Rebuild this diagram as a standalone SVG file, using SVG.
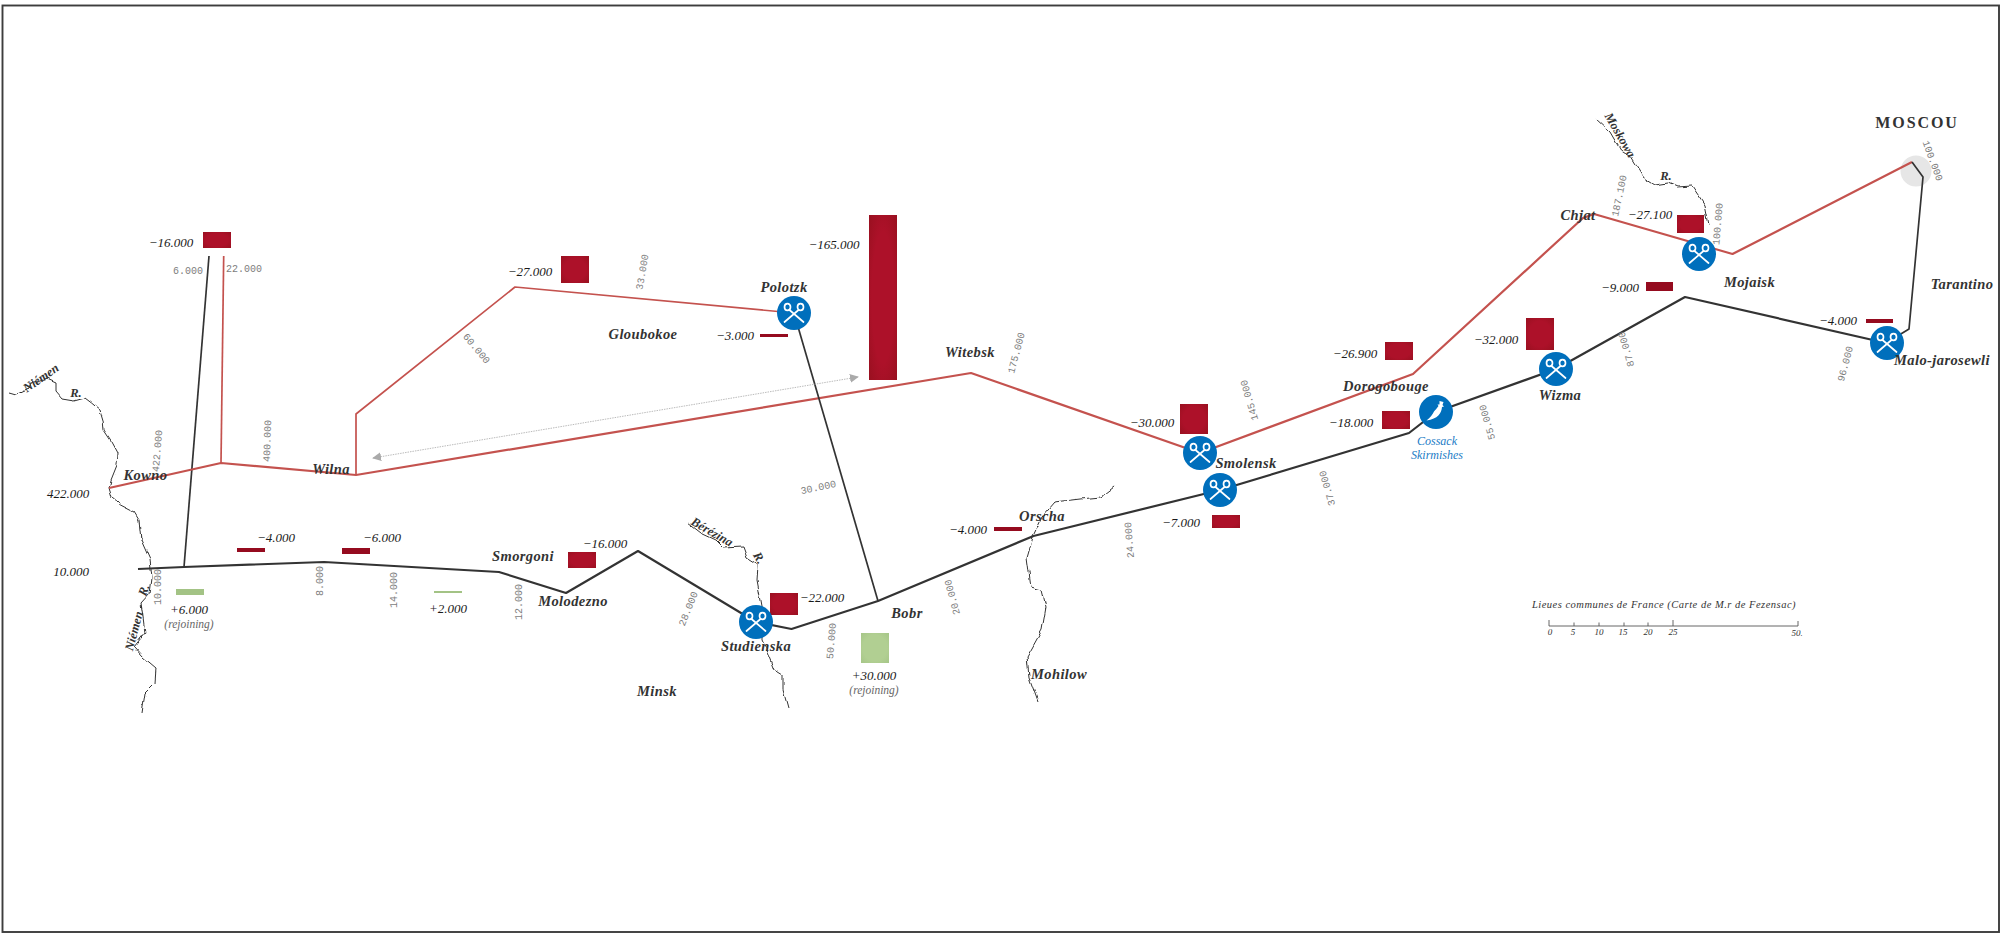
<svg xmlns="http://www.w3.org/2000/svg" width="2003" height="941" viewBox="0 0 2003 941">
<style>
.frame{fill:none;stroke:#3c3c3c;stroke-width:1.9}
.adv{fill:none;stroke:#c4524e;stroke-width:2.2;stroke-linejoin:round}
.ret{fill:none;stroke:#333;stroke-width:2.2;stroke-linejoin:round}
.thinr{stroke-width:1.7}
.thinb{stroke-width:1.7}
.river{fill:none;stroke:#333;stroke-width:1;stroke-linejoin:round}
.dist{font:10px "Liberation Mono",monospace;fill:#7d7d7d;text-anchor:middle;dominant-baseline:central}
.num{font:italic 13px "Liberation Serif",serif;fill:#1a1a1a;text-anchor:middle;dominant-baseline:central}
.place{font:italic 700 14.5px "Liberation Serif",serif;fill:#333;text-anchor:middle;dominant-baseline:central;letter-spacing:.4px}
.small{font:italic 700 12.5px "Liberation Serif",serif;fill:#333;text-anchor:middle;dominant-baseline:central}
.rej{font:italic 11.5px "Liberation Serif",serif;fill:#666;text-anchor:middle;dominant-baseline:central}
.blue{font:italic 12px "Liberation Serif",serif;fill:#1b7cc6;text-anchor:middle;dominant-baseline:central}
.tick{font:italic 9px "Liberation Serif",serif;fill:#333;text-anchor:middle;dominant-baseline:central}
.loss{fill:url(#lossG)}
.lossf{fill:#950b1f}
.gain{fill:url(#gainG)}
.gainf{fill:#a3c385}
.disc{fill:#006fbc}
.sw{fill:none;stroke:#fff;stroke-width:1.7;stroke-linecap:round}
</style>
<defs>
<radialGradient id="lossG" cx=".5" cy=".5" r=".72"><stop offset=".55" stop-color="#ad1129"/><stop offset="1" stop-color="#97101f"/></radialGradient>
<radialGradient id="gainG" cx=".5" cy=".5" r=".72"><stop offset=".6" stop-color="#b1cf92"/><stop offset="1" stop-color="#a5c587"/></radialGradient>
<marker id="ah" viewBox="0 0 10 10" refX="9" refY="5" markerWidth="9" markerHeight="9" orient="auto-start-reverse" markerUnits="userSpaceOnUse"><path d="M0 0L10 5L0 10Z" fill="#aaa"/></marker>
<filter id="wob" filterUnits="userSpaceOnUse" x="0" y="0" width="2003" height="941"><feTurbulence type="fractalNoise" baseFrequency=".09" numOctaves="2" seed="4"/><feDisplacementMap in="SourceGraphic" scale="5" xChannelSelector="R" yChannelSelector="G"/></filter>
<filter id="rough" filterUnits="userSpaceOnUse" x="0" y="0" width="2003" height="941"><feTurbulence type="fractalNoise" baseFrequency=".4" numOctaves="1" seed="7"/><feDisplacementMap in="SourceGraphic" scale="1.4" xChannelSelector="R" yChannelSelector="G"/></filter>
<g id="swords">
<ellipse class="sw" cx="-6.500" cy="-6" rx="3" ry="3.400"/><ellipse class="sw" cx="6.500" cy="-6" rx="3" ry="3.400"/>
<path class="sw" d="M-4.500 -3L9.500 9M4.500 -3L-9.500 9"/>
</g>
</defs>
<rect width="2003" height="941" fill="#fff"/>
<rect class="frame" filter="url(#rough)" x="2.500" y="5.500" width="1996.500" height="926.500"/>

<g id="rivers" filter="url(#wob)">
<path class="river" d="M9 393L16 395L27 390L33 382L47 378L56 382L56 392L62 399L74 401L85 398L91.500 403L100 410L103 420L104 430L112 442L118 453L117 465L111 480L109 488L112 498L120.500 505L134 512L139 520L141 540L150 560L152 577L150 593L141 603L143 617L145 633L134 647L143 657L156 668L155 683L145 693L142 713"/>
<path class="river" d="M688 523L701 533L716 540L724 548L743 547L747 558L758 565L757 580L762 607L762 640L770 657L775 670L783 675L783 690L788 708"/>
<path class="river" d="M1114 487L1101 497L1080 499L1055 502L1042 517L1033 536L1027 557L1031 587L1042 590L1046 607L1042 630L1027 657L1029 677L1038 702"/>
<path class="river" d="M1595 118L1610 132L1620.500 150L1631 157L1644 178L1655 185L1668 183L1677 187L1692 186L1705 205L1709 225"/>
</g>

<g id="connectors">
<circle cx="1916" cy="171" r="15.500" fill="#e6e6e6"/>
<path class="ret thinb" d="M209 256L184 567"/>
<path class="adv thinr" d="M223.700 256L221 463"/>
<path class="adv" d="M109 488L221 463L356 475L971 373L1200 453L1413 374L1583 218L1594 214L1732.500 254L1912 162"/>
<path class="adv thinr" d="M356 475V414L515 287L794 313"/>
<path class="ret thinb" d="M794 313L878 601"/>
<path class="ret" d="M138 569L184 567L324 562L499 572L566 593L638 551L756 622L791.500 629L878 601L1033.500 536L1220 490L1409 433L1436 412L1556 369L1685 297L1886 343"/>
<path class="ret thinb" d="M1886 343L1909 329L1923 177L1912 162"/>
<path fill="none" stroke="#aaa" stroke-width=".8" stroke-dasharray="1.500 1" marker-start="url(#ah)" marker-end="url(#ah)" d="M373 458L858 377"/>
</g>

<g id="losses">
<rect class="loss" x="203" y="232" width="28" height="16"/>
<rect class="loss" x="561" y="256" width="28" height="27"/>
<rect class="lossf" x="237" y="548" width="28" height="4"/>
<rect class="lossf" x="342" y="548" width="28" height="6"/>
<rect class="loss" x="568" y="552" width="28" height="16"/>
<rect class="loss" x="869" y="215" width="28" height="165"/>
<rect class="lossf" x="760" y="334" width="28" height="3"/>
<rect class="loss" x="1180" y="404" width="28" height="30"/>
<rect class="lossf" x="994" y="527" width="28" height="4"/>
<rect class="loss" x="1212" y="515" width="28" height="13"/>
<rect class="loss" x="770" y="593" width="28" height="22"/>
<rect class="loss" x="1677" y="215" width="27" height="18"/>
<rect class="lossf" x="1646" y="282" width="27" height="9"/>
<rect class="lossf" x="1866" y="319" width="27" height="4"/>
<rect class="loss" x="1526" y="318" width="28" height="32"/>
<rect class="loss" x="1385" y="342" width="28" height="18"/>
<rect class="loss" x="1382" y="411" width="28" height="18"/>
<rect class="gainf" x="176" y="589" width="28" height="6"/>
<rect class="gainf" x="434" y="591" width="28" height="2"/>
<rect class="gain" x="861" y="633" width="28" height="30"/>
</g>

<g id="battle-polotzk" transform="translate(794 313)"><circle class="disc" r="17"/><use href="#swords"/></g>
<g id="battle-smolensk" transform="translate(1200 453)"><circle class="disc" r="17"/><use href="#swords"/></g>
<g id="battle-krasnoi" transform="translate(1220 490)"><circle class="disc" r="17"/><use href="#swords"/></g>
<g id="battle-studienska" transform="translate(756 622)"><circle class="disc" r="17"/><use href="#swords"/></g>
<g id="battle-mojaisk" transform="translate(1699 254)"><circle class="disc" r="17"/><use href="#swords"/></g>
<g id="battle-wizma" transform="translate(1556 369)"><circle class="disc" r="17"/><use href="#swords"/></g>
<g id="battle-malo" transform="translate(1887 343)"><circle class="disc" r="17"/><use href="#swords"/></g>
<g id="cossack" transform="translate(1436 412)"><circle class="disc" r="17"/><path fill="#fff" d="M3.500 -11L7.500 -10L6.500 -7L8 -5.500L6 -5C5.500 1 2 7 -9.500 8.500C-5.500 5.500 -3.500 2.500 -2 -0.500C-.5 -2 .5 -3.500 2.500 -6L1.500 -7.500L3.500 -7.500Z"/></g>

<g id="numbers">
<text class="num" x="171" y="242">−16.000</text>
<text class="num" x="530" y="271">−27.000</text>
<text class="num" x="68" y="493">422.000</text>
<text class="num" x="71" y="571">10.000</text>
<text class="num" x="276" y="537">−4.000</text>
<text class="num" x="382" y="537">−6.000</text>
<text class="num" x="605" y="543">−16.000</text>
<text class="num" x="189" y="609">+6.000</text>
<text class="num" x="448" y="608">+2.000</text>
<text class="num" x="834" y="244">−165.000</text>
<text class="num" x="735" y="335">−3.000</text>
<text class="num" x="1152" y="422">−30.000</text>
<text class="num" x="968" y="529">−4.000</text>
<text class="num" x="1181" y="522">−7.000</text>
<text class="num" x="822" y="597">−22.000</text>
<text class="num" x="874" y="675">+30.000</text>
<text class="num" x="1650" y="214">−27.100</text>
<text class="num" x="1620" y="287">−9.000</text>
<text class="num" x="1838" y="320">−4.000</text>
<text class="num" x="1496" y="339">−32.000</text>
<text class="num" x="1355" y="353">−26.900</text>
<text class="num" x="1351" y="422">−18.000</text>
<text class="rej" x="189" y="624">(rejoining)</text>
<text class="rej" x="874" y="690">(rejoining)</text>
<text class="blue" x="1437" y="441">Cossack</text>
<text class="blue" x="1437" y="455">Skirmishes</text>
</g>

<g id="distances">
<text class="dist" x="188" y="271">6.000</text>
<text class="dist" x="244" y="269">22.000</text>
<text class="dist" transform="rotate(-80 643 272)" x="643" y="272">33.000</text>
<text class="dist" transform="rotate(50 476 349)" x="476" y="349">60.000</text>
<text class="dist" transform="rotate(-85 158 451)" x="158" y="451">422.000</text>
<text class="dist" transform="rotate(-88 268 441)" x="268" y="441">400.000</text>
<text class="dist" transform="rotate(-90 158.500 587)" x="158.500" y="587">10.000</text>
<text class="dist" transform="rotate(-90 320.500 581)" x="320.500" y="581">8.000</text>
<text class="dist" transform="rotate(-90 394 590)" x="394" y="590">14.000</text>
<text class="dist" transform="rotate(-90 519 602)" x="519" y="602">12.000</text>
<text class="dist" transform="rotate(-68 689 609)" x="689" y="609">28.000</text>
<text class="dist" transform="rotate(-75 1017 353)" x="1017" y="353">175.000</text>
<text class="dist" transform="rotate(-106 1250 400)" x="1250" y="400">145.000</text>
<text class="dist" transform="rotate(-12 818.500 488)" x="818.500" y="488">30.000</text>
<text class="dist" transform="rotate(-106 1328 488)" x="1328" y="488">37.000</text>
<text class="dist" transform="rotate(-85 832 641)" x="832" y="641">50.000</text>
<text class="dist" transform="rotate(-105 953 597)" x="953" y="597">20.000</text>
<text class="dist" transform="rotate(-95 1130 540)" x="1130" y="540">24.000</text>
<text class="dist" transform="rotate(-106 1488 422)" x="1488" y="422">55.000</text>
<text class="dist" transform="rotate(-106 1627 349)" x="1627" y="349">87.000</text>
<text class="dist" transform="rotate(-78 1620 196)" x="1620" y="196">187.100</text>
<text class="dist" transform="rotate(-85 1718.500 224)" x="1718.500" y="224">100.000</text>
<text class="dist" transform="rotate(70 1932 161)" x="1932" y="161">100.000</text>
<text class="dist" transform="rotate(-75 1846 364)" x="1846" y="364">96.000</text>
</g>

<g id="places">
<text class="place" x="145.500" y="475">Kowno</text>
<text class="place" x="331" y="469">Wilna</text>
<text class="place" x="523" y="556">Smorgoni</text>
<text class="place" x="573" y="601">Molodezno</text>
<text class="place" x="657" y="691">Minsk</text>
<text class="place" x="643" y="334">Gloubokoe</text>
<text class="place" x="784" y="287">Polotzk</text>
<text class="place" x="970" y="352">Witebsk</text>
<text class="place" x="1246" y="463">Smolensk</text>
<text class="place" x="1042" y="516">Orscha</text>
<text class="place" x="907" y="613">Bobr</text>
<text class="place" x="1059" y="674">Mohilow</text>
<text class="place" x="756" y="646">Studienska</text>
<text class="place" x="1386" y="386">Dorogobouge</text>
<text class="place" x="1560" y="395">Wizma</text>
<text class="place" x="1578" y="215">Chjat</text>
<text class="place" x="1749.500" y="282">Mojaisk</text>
<text class="place" x="1962" y="284">Tarantino</text>
<text class="place" x="1942" y="360">Malo-jarosewli</text>
<text x="1917" y="122" text-anchor="middle" dominant-baseline="central" font-family="Liberation Serif, serif" font-weight="700" font-size="16" letter-spacing="1.900" fill="#333">MOSCOU</text>
<text class="small" transform="rotate(-35 41 378)" x="41" y="378">Niémen</text>
<text class="small" x="76" y="393">R.</text>
<text class="small" transform="rotate(-70 144 590)" x="144" y="590">R.</text>
<text class="small" transform="rotate(-75 134 631)" x="134" y="631">Niémen</text>
<text class="small" transform="rotate(30 712 532)" x="712" y="532">Bérézina</text>
<text class="small" transform="rotate(60 759 558)" x="759" y="558">R.</text>
<text class="small" transform="rotate(60 1620 135)" x="1620" y="135">Moskowa</text>
<text class="small" x="1666" y="176">R.</text>
</g>

<g id="scale">
<text x="1664" y="604" text-anchor="middle" dominant-baseline="central" font-family="Liberation Serif, serif" font-style="italic" font-size="10.500" letter-spacing=".5" fill="#333">Lieues communes de France (Carte de M.r de Fezensac)</text>
<path fill="none" stroke="#555" stroke-width=".9" d="M1549 620V626H1798V621M1574 622.500V626M1599 622.500V626M1624 622.500V626M1648 622.500V626M1673 620V626"/>
<text class="tick" x="1550" y="632">0</text>
<text class="tick" x="1573" y="632">5</text>
<text class="tick" x="1599" y="632">10</text>
<text class="tick" x="1623" y="632">15</text>
<text class="tick" x="1648" y="632">20</text>
<text class="tick" x="1673" y="632">25</text>
<text class="tick" x="1797" y="633">50.</text>
</g>
</svg>
